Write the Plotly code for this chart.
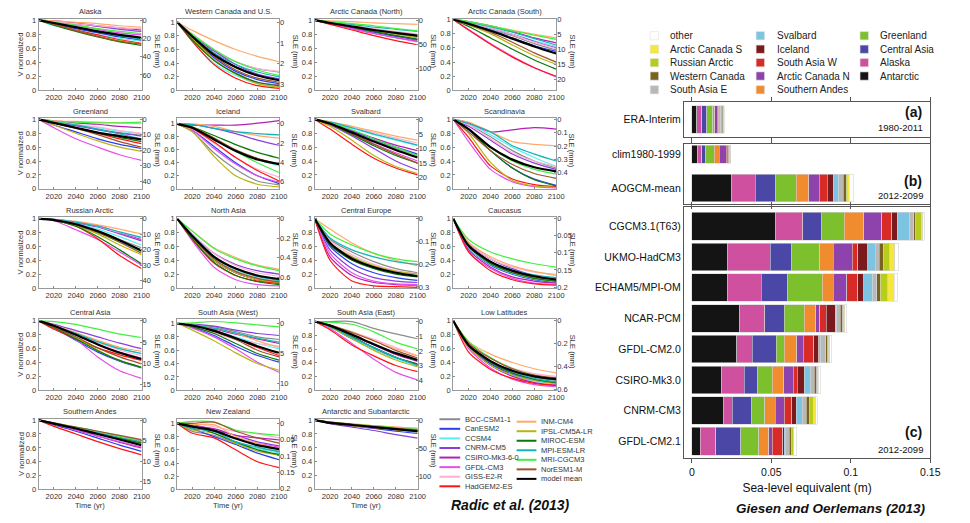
import plotly.graph_objects as go

W, H = 970, 523
FONT = "Liberation Sans, Arial, Helvetica, sans-serif"

# ---------------- left figure data (Radic et al. 2013) ----------------
YEARS = [2006, 2020, 2040, 2060, 2080, 2100]
V_START = 1.0
MODELS = ["BCC-CSM1-1", "CanESM2", "CCSM4", "CNRM-CM5", "CSIRO-Mk3-6-0", "GFDL-CM3",
          "GISS-E2-R", "HadGEM2-ES", "INM-CM4", "IPSL-CM5A-LR", "MIROC-ESM",
          "MPI-ESM-LR", "MRI-CGCM3", "NorESM1-M", "model mean"]
MODEL_COLORS = ["#8c8c8c", "#2a3ff0", "#5ef0f0", "#8a3ee0", "#b41eb4", "#e650ea",
                "#ffb0d0", "#ff1414", "#ffaa6a", "#b9b416", "#0a780a", "#14b4b4",
                "#40f040", "#a0522d", "#000000"]

PANEL_TITLES = ["Alaska", "Western Canada and U.S.", "Arctic Canada (North)", "Arctic Canada (South)",
                "Greenland", "Iceland", "Svalbard", "Scandinavia",
                "Russian Arctic", "North Asia", "Central Europe", "Caucasus",
                "Central Asia", "South Asia (West)", "South Asia (East)", "Low Latitudes",
                "Southern Andes", "New Zealand", "Antarctic and Subantarctic"]

# values at 2020, 2040, 2060, 2080, 2100 (normalized volume), one row per model
ALASKA = [[0.95,0.89,0.83,0.77,0.72],[0.95,0.88,0.82,0.76,0.71],[0.92,0.86,0.79,0.74,0.70],
          [0.98,0.95,0.91,0.87,0.84],[0.99,0.96,0.92,0.89,0.86],[0.98,0.93,0.87,0.82,0.79],
          [0.98,0.95,0.92,0.89,0.88],[0.94,0.86,0.79,0.72,0.67],[0.99,0.97,0.95,0.92,0.90],
          [0.94,0.85,0.77,0.71,0.66],[0.93,0.84,0.76,0.69,0.64],[0.96,0.90,0.84,0.78,0.73],
          [0.97,0.93,0.88,0.84,0.81],[0.94,0.85,0.77,0.70,0.66],[0.96,0.90,0.84,0.79,0.75]]
WEST_CANADA = [[0.82,0.58,0.42,0.32,0.27],[0.78,0.48,0.28,0.16,0.10],[0.72,0.40,0.22,0.10,0.05],
               [0.82,0.58,0.38,0.24,0.17],[0.80,0.55,0.35,0.22,0.15],[0.75,0.45,0.25,0.12,0.08],
               [0.83,0.60,0.42,0.32,0.28],[0.72,0.38,0.18,0.07,0.03],[0.88,0.73,0.60,0.50,0.42],
               [0.76,0.45,0.24,0.10,0.05],[0.74,0.44,0.25,0.12,0.07],[0.80,0.55,0.38,0.27,0.20],
               [0.82,0.60,0.42,0.30,0.22],[0.78,0.50,0.30,0.18,0.12],[0.79,0.52,0.34,0.22,0.15]]
ARCTIC_CAN_N = [[0.96,0.91,0.86,0.81,0.77],[0.95,0.89,0.83,0.77,0.72],[0.96,0.91,0.86,0.81,0.76],
                [0.96,0.90,0.84,0.78,0.72],[0.95,0.88,0.81,0.75,0.70],[0.95,0.88,0.81,0.75,0.69],
                [0.97,0.93,0.88,0.84,0.80],[0.94,0.86,0.78,0.71,0.65],[0.99,0.98,0.96,0.95,0.94],
                [0.96,0.91,0.85,0.80,0.75],[0.96,0.90,0.84,0.78,0.73],[0.97,0.94,0.90,0.87,0.84],
                [0.98,0.95,0.92,0.88,0.85],[0.96,0.91,0.86,0.81,0.77],[0.96,0.91,0.86,0.82,0.78]]
ARCTIC_CAN_S = [[0.95,0.86,0.77,0.66,0.57],[0.94,0.85,0.74,0.63,0.55],[0.95,0.87,0.79,0.70,0.62],
                [0.96,0.88,0.79,0.69,0.60],[0.97,0.91,0.83,0.74,0.67],[0.86,0.66,0.48,0.32,0.19],
                [0.96,0.88,0.79,0.68,0.59],[0.85,0.65,0.47,0.32,0.20],[0.97,0.91,0.85,0.79,0.74],
                [0.92,0.80,0.64,0.49,0.37],[0.90,0.74,0.58,0.43,0.30],[0.96,0.90,0.82,0.73,0.64],
                [0.97,0.91,0.84,0.78,0.72],[0.93,0.82,0.68,0.53,0.40],[0.94,0.84,0.73,0.62,0.52]]
GREENLAND = [[0.96,0.91,0.86,0.81,0.77],[0.92,0.82,0.72,0.64,0.58],[0.97,0.93,0.88,0.83,0.79],
             [0.96,0.91,0.85,0.80,0.76],[0.98,0.95,0.93,0.90,0.88],[0.88,0.72,0.60,0.49,0.41],
             [0.97,0.93,0.89,0.84,0.80],[0.95,0.88,0.80,0.72,0.65],[0.98,0.97,0.96,0.95,0.94],
             [0.92,0.80,0.69,0.60,0.54],[0.95,0.88,0.81,0.74,0.68],[0.97,0.92,0.86,0.79,0.72],
             [0.97,0.96,0.95,0.95,0.96],[0.95,0.87,0.78,0.68,0.60],[0.95,0.88,0.81,0.76,0.71]]
ICELAND = [[0.88,0.55,0.30,0.12,0.06],[0.90,0.65,0.40,0.20,0.08],[0.92,0.75,0.58,0.45,0.35],
           [0.99,0.93,0.85,0.75,0.67],[0.98,0.98,0.98,1.01,1.05],[0.90,0.62,0.38,0.20,0.10],
           [0.92,0.70,0.48,0.30,0.18],[0.93,0.72,0.48,0.28,0.12],[1.00,0.96,0.88,0.82,0.78],
           [0.88,0.50,0.20,0.07,0.03],[0.95,0.82,0.68,0.56,0.47],[0.99,0.93,0.88,0.85,0.83],
           [0.95,0.78,0.58,0.40,0.25],[0.95,0.78,0.60,0.47,0.38],[0.94,0.76,0.58,0.45,0.38]]
SVALBARD = [[0.94,0.82,0.70,0.58,0.48],[0.94,0.83,0.72,0.60,0.50],[0.95,0.87,0.78,0.70,0.62],
            [0.92,0.76,0.58,0.40,0.27],[0.94,0.84,0.73,0.63,0.55],[0.93,0.80,0.65,0.52,0.40],
            [0.96,0.89,0.81,0.73,0.66],[0.86,0.64,0.44,0.30,0.20],[0.97,0.90,0.83,0.76,0.70],
            [0.90,0.70,0.48,0.32,0.22],[0.93,0.78,0.62,0.48,0.37],[0.96,0.88,0.79,0.71,0.63],
            [0.95,0.85,0.72,0.60,0.48],[0.93,0.79,0.64,0.50,0.37],[0.94,0.81,0.68,0.56,0.45]]
SCANDINAVIA = [[0.92,0.75,0.55,0.40,0.30],[0.85,0.55,0.30,0.14,0.05],[0.93,0.78,0.60,0.45,0.32],
               [0.90,0.70,0.50,0.37,0.28],[0.95,0.82,0.85,0.88,0.86],[0.68,0.28,0.10,0.03,0.01],
               [0.92,0.72,0.52,0.40,0.32],[0.74,0.33,0.14,0.06,0.03],[0.96,0.82,0.68,0.64,0.62],
               [0.80,0.38,0.12,0.04,0.02],[0.86,0.55,0.30,0.13,0.04],[0.94,0.82,0.62,0.50,0.40],
               [0.86,0.60,0.40,0.28,0.21],[0.82,0.55,0.35,0.22,0.15],[0.86,0.60,0.42,0.31,0.25]]
RUSSIAN_ARCTIC = [[0.98,0.92,0.82,0.70,0.58],[0.98,0.91,0.81,0.68,0.53],[0.98,0.93,0.85,0.74,0.62],
                  [0.98,0.94,0.88,0.78,0.68],[0.99,0.95,0.90,0.80,0.70],[0.97,0.84,0.70,0.52,0.33],
                  [0.99,0.95,0.89,0.80,0.72],[0.98,0.89,0.71,0.47,0.28],[0.99,0.96,0.91,0.85,0.78],
                  [0.98,0.90,0.78,0.62,0.48],[0.98,0.89,0.74,0.55,0.35],[0.99,0.95,0.89,0.81,0.73],
                  [0.98,0.91,0.80,0.66,0.52],[0.98,0.91,0.80,0.66,0.50],[0.98,0.92,0.82,0.69,0.54]]
NORTH_ASIA = [[0.76,0.46,0.28,0.17,0.11],[0.72,0.40,0.22,0.12,0.07],[0.74,0.44,0.26,0.15,0.10],
              [0.77,0.50,0.34,0.25,0.20],[0.73,0.40,0.22,0.12,0.07],[0.68,0.30,0.12,0.05,0.03],
              [0.78,0.50,0.32,0.22,0.17],[0.70,0.36,0.18,0.10,0.07],[0.82,0.58,0.44,0.33,0.27],
              [0.72,0.40,0.22,0.12,0.08],[0.71,0.37,0.18,0.09,0.05],[0.76,0.46,0.28,0.17,0.11],
              [0.82,0.57,0.42,0.32,0.25],[0.74,0.42,0.24,0.14,0.09],[0.75,0.45,0.28,0.18,0.13]]
CENTRAL_EUROPE = [[0.70,0.52,0.38,0.28,0.22],[0.60,0.35,0.22,0.15,0.11],[0.65,0.45,0.32,0.24,0.18],
                  [0.55,0.28,0.15,0.10,0.08],[0.45,0.18,0.08,0.05,0.04],[0.50,0.22,0.10,0.06,0.05],
                  [0.68,0.48,0.34,0.25,0.20],[0.40,0.10,0.03,0.02,0.01],[0.85,0.65,0.50,0.40,0.32],
                  [0.65,0.45,0.32,0.24,0.20],[0.62,0.40,0.28,0.20,0.16],[0.72,0.55,0.45,0.38,0.34],
                  [0.78,0.62,0.50,0.42,0.38],[0.65,0.44,0.30,0.22,0.17],[0.65,0.42,0.30,0.22,0.17]]
CAUCASUS = [[0.60,0.35,0.22,0.14,0.10],[0.58,0.33,0.20,0.12,0.08],[0.58,0.34,0.21,0.13,0.09],
            [0.64,0.42,0.28,0.18,0.12],[0.55,0.30,0.16,0.10,0.07],[0.52,0.28,0.14,0.07,0.05],
            [0.65,0.42,0.30,0.23,0.20],[0.52,0.25,0.12,0.06,0.04],[0.66,0.45,0.32,0.24,0.18],
            [0.60,0.36,0.22,0.14,0.10],[0.60,0.35,0.22,0.14,0.10],[0.62,0.38,0.26,0.19,0.15],
            [0.70,0.52,0.42,0.35,0.30],[0.62,0.38,0.24,0.16,0.12],[0.61,0.38,0.25,0.17,0.12]]
CENTRAL_ASIA = [[0.93,0.80,0.66,0.54,0.44],[0.90,0.72,0.55,0.42,0.32],[0.92,0.80,0.69,0.60,0.53],
                [0.95,0.86,0.77,0.68,0.60],[0.92,0.80,0.66,0.55,0.46],[0.90,0.73,0.48,0.28,0.17],
                [0.93,0.81,0.69,0.58,0.50],[0.88,0.74,0.61,0.51,0.43],[0.94,0.83,0.72,0.62,0.56],
                [0.91,0.76,0.58,0.43,0.33],[0.90,0.74,0.57,0.43,0.33],[0.93,0.82,0.70,0.60,0.53],
                [0.99,0.95,0.88,0.81,0.76],[0.91,0.77,0.61,0.48,0.38],[0.93,0.80,0.66,0.54,0.45]]
SOUTH_ASIA_W = [[0.98,0.95,0.88,0.80,0.76],[0.94,0.82,0.66,0.52,0.42],[0.97,0.90,0.80,0.70,0.62],
                [0.99,0.96,0.90,0.85,0.82],[0.97,0.92,0.84,0.77,0.70],[0.93,0.80,0.62,0.42,0.27],
                [0.95,0.86,0.76,0.70,0.66],[0.97,0.90,0.78,0.64,0.52],[0.98,0.93,0.85,0.74,0.64],
                [0.90,0.74,0.56,0.40,0.30],[0.95,0.85,0.70,0.55,0.45],[0.98,0.93,0.86,0.78,0.72],
                [1.01,1.03,1.01,0.98,0.95],[0.97,0.88,0.76,0.60,0.50],[0.97,0.89,0.78,0.66,0.56]]
SOUTH_ASIA_E = [[1.00,1.00,0.90,0.82,0.75],[0.92,0.75,0.60,0.47,0.37],[0.92,0.76,0.60,0.46,0.35],
                [0.93,0.78,0.62,0.48,0.38],[0.94,0.80,0.66,0.52,0.42],[0.90,0.68,0.45,0.26,0.15],
                [0.95,0.85,0.74,0.62,0.50],[0.88,0.66,0.50,0.36,0.27],[0.95,0.85,0.72,0.60,0.50],
                [0.92,0.75,0.58,0.44,0.34],[0.93,0.78,0.62,0.48,0.38],[0.93,0.77,0.62,0.48,0.36],
                [0.99,0.96,0.85,0.70,0.60],[0.95,0.84,0.72,0.58,0.47],[0.94,0.81,0.67,0.54,0.44]]
LOW_LATITUDES = [[0.66,0.42,0.28,0.19,0.14],[0.63,0.38,0.23,0.14,0.09],[0.62,0.36,0.21,0.13,0.09],
                 [0.64,0.40,0.25,0.16,0.11],[0.62,0.36,0.20,0.11,0.07],[0.60,0.32,0.16,0.08,0.05],
                 [0.68,0.46,0.32,0.24,0.20],[0.55,0.30,0.17,0.10,0.07],[0.70,0.52,0.40,0.31,0.25],
                 [0.62,0.36,0.22,0.14,0.10],[0.64,0.40,0.25,0.16,0.11],[0.66,0.42,0.27,0.17,0.12],
                 [0.70,0.47,0.31,0.21,0.16],[0.68,0.46,0.31,0.22,0.18],[0.65,0.42,0.28,0.20,0.16]]
SOUTHERN_ANDES = [[0.95,0.88,0.81,0.74,0.67],[0.93,0.84,0.74,0.64,0.55],[0.94,0.87,0.79,0.72,0.65],
                  [0.95,0.88,0.81,0.74,0.68],[0.94,0.86,0.77,0.68,0.60],[0.94,0.86,0.77,0.69,0.61],
                  [0.95,0.88,0.81,0.73,0.66],[0.91,0.80,0.69,0.59,0.50],[0.95,0.89,0.82,0.76,0.70],
                  [0.95,0.88,0.81,0.74,0.67],[0.95,0.88,0.81,0.74,0.67],[0.95,0.89,0.82,0.75,0.69],
                  [0.96,0.90,0.84,0.77,0.71],[0.96,0.90,0.84,0.78,0.72],[0.95,0.88,0.80,0.72,0.64]]
NEW_ZEALAND = [[0.88,0.82,0.70,0.62,0.58],[0.92,0.80,0.68,0.55,0.45],[0.95,0.85,0.72,0.62,0.55],
               [0.98,0.90,0.82,0.72,0.66],[0.96,0.92,0.82,0.78,0.75],[0.97,0.88,0.78,0.70,0.64],
               [1.00,0.95,0.88,0.84,0.78],[0.85,0.78,0.60,0.42,0.33],[0.98,0.98,0.80,0.70,0.62],
               [0.90,0.85,0.70,0.58,0.52],[0.96,0.85,0.72,0.60,0.53],[0.92,0.88,0.72,0.64,0.57],
               [1.03,1.02,0.90,0.85,0.82],[1.00,1.02,0.88,0.78,0.70],[0.95,0.89,0.77,0.67,0.61]]
ANTARCTIC = [[0.96,0.92,0.89,0.86,0.84],[0.96,0.92,0.88,0.84,0.81],[0.96,0.93,0.90,0.87,0.85],
             [0.95,0.90,0.85,0.79,0.74],[0.96,0.93,0.90,0.87,0.85],[0.96,0.92,0.89,0.86,0.84],
             [0.97,0.94,0.92,0.90,0.88],[0.96,0.93,0.90,0.87,0.84],[0.97,0.95,0.92,0.90,0.88],
             [0.96,0.92,0.89,0.86,0.83],[0.96,0.93,0.90,0.87,0.85],[0.97,0.94,0.91,0.88,0.86],
             [0.97,0.94,0.92,0.89,0.87],[0.97,0.94,0.91,0.88,0.86],[0.96,0.93,0.90,0.87,0.84]]

PANEL_DATA = [ALASKA, WEST_CANADA, ARCTIC_CAN_N, ARCTIC_CAN_S, GREENLAND, ICELAND, SVALBARD,
              SCANDINAVIA, RUSSIAN_ARCTIC, NORTH_ASIA, CENTRAL_EUROPE, CAUCASUS, CENTRAL_ASIA,
              SOUTH_ASIA_W, SOUTH_ASIA_E, LOW_LATITUDES, SOUTHERN_ANDES, NEW_ZEALAND, ANTARCTIC]
V_MAX = [1.02, 1.05, 1.02, 1.01, 1.02, 1.09, 1.02, 1.02, 1.02, 1.02,
         1.02, 1.02, 1.02, 1.06, 1.03, 1.02, 1.02, 1.07, 1.02]
SLE_AT_ZERO = [77, 3.29, 145, 23.6, 44.8, 6.72, 23.8, 0.52, 44.8, 0.71,
               0.305, 0.203, 16.3, 11.2, 4.67, 0.61, 16.9, 0.203, 123]
SLE_TICKS = [[0, 20, 40, 60], [0, 1, 2, 3], [0, 50, 100], [0, 5, 10, 15, 20],
             [0, 10, 20, 30, 40], [0, 2, 4, 6], [0, 5, 10, 15, 20], [0, 0.1, 0.2, 0.3, 0.4],
             [0, 10, 20, 30, 40], [0, 0.2, 0.4, 0.6], [0, 0.1, 0.2, 0.3], [0, 0.05, 0.1, 0.15, 0.2],
             [0, 5, 10, 15], [0, 5, 10], [0, 1, 2, 3, 4], [0, 0.2, 0.4, 0.6],
             [0, 5, 10, 15], [0, 0.05, 0.1, 0.15, 0.2], [0, 50, 100]]
V_TICKS = [0, 0.2, 0.4, 0.6, 0.8, 1]
X_TICKS = [2020, 2040, 2060, 2080, 2100]

# ---------------- right figure data (Giesen and Oerlemans 2013) ----------------
REGIONS = ["Antarctic", "Alaska", "Central Asia", "Greenland", "Southern Andes", "Arctic Canada N",
           "South Asia W", "Iceland", "Svalbard", "South Asia E", "Western Canada", "Russian Arctic",
           "Arctic Canada S", "other"]
REGION_COLORS = ["#141414", "#d050a0", "#4a47a6", "#7cc12d", "#f08c2e", "#8d42ac", "#d82a27",
                 "#7b1a1d", "#7dc4e2", "#b8b8b8", "#7a6320", "#b7cc1c", "#f6e640", "#ffffff"]
ERA_INTERIM = [0.0031, 0.0031, 0.0031, 0.0040, 0.0012, 0.0016, 0.0008, 0.0008, 0.0006, 0.0008, 0.0006, 0.0003, 0.0002, 0.0003]
CLIM_1980_1999 = [0.0037, 0.0025, 0.0027, 0.0052, 0.0033, 0.0044, 0.0006, 0.0008, 0.0003, 0.0004, 0.0003, 0.0001, 0.0001, 0.0002]
AOGCM_MEAN = [0.0249, 0.0151, 0.0129, 0.0129, 0.0079, 0.0064, 0.0052, 0.0037, 0.0033, 0.0029, 0.0019, 0.0010, 0.0010, 0.0025]
CGCM31_T63 = [0.0525, 0.0172, 0.0118, 0.0145, 0.0120, 0.0114, 0.0062, 0.0035, 0.0079, 0.0025, 0.0015, 0.0033, 0.0008, 0.0012]
UKMO_HADCM3 = [0.0224, 0.0270, 0.0131, 0.0180, 0.0085, 0.0120, 0.0033, 0.0064, 0.0046, 0.0027, 0.0025, 0.0041, 0.0029, 0.0027]
ECHAM5_MPIOM = [0.0224, 0.0214, 0.0164, 0.0218, 0.0071, 0.0083, 0.0071, 0.0037, 0.0056, 0.0025, 0.0023, 0.0046, 0.0041, 0.0021]
NCAR_PCM = [0.0301, 0.0158, 0.0122, 0.0127, 0.0071, 0.0027, 0.0041, 0.0056, 0.0008, 0.0021, 0.0017, 0.0008, 0.0004, 0.0012]
GFDL_CM20 = [0.0282, 0.0098, 0.0151, 0.0050, 0.0079, 0.0041, 0.0066, 0.0031, 0.0012, 0.0031, 0.0015, 0.0006, 0.0004, 0.0012]
CSIRO_MK30 = [0.0189, 0.0141, 0.0085, 0.0091, 0.0071, 0.0060, 0.0027, 0.0044, 0.0041, 0.0021, 0.0017, 0.0004, 0.0004, 0.0012]
CNRM_CM3 = [0.0197, 0.0058, 0.0118, 0.0085, 0.0066, 0.0058, 0.0046, 0.0029, 0.0037, 0.0027, 0.0021, 0.0021, 0.0015, 0.0012]
GFDL_CM21 = [0.0054, 0.0098, 0.0156, 0.0114, 0.0062, 0.0021, 0.0066, 0.0010, 0.0006, 0.0027, 0.0015, 0.0008, 0.0004, 0.0019]

CATS_A = ["ERA-Interim"]
CATS_B = ["clim1980-1999", "AOGCM-mean"]
CATS_C = ["CGCM3.1(T63)", "UKMO-HadCM3", "ECHAM5/MPI-OM", "NCAR-PCM", "GFDL-CM2.0",
          "CSIRO-Mk3.0", "CNRM-CM3", "GFDL-CM2.1"]
SETS_A = [ERA_INTERIM]
SETS_B = [CLIM_1980_1999, AOGCM_MEAN]
SETS_C = [CGCM31_T63, UKMO_HADCM3, ECHAM5_MPIOM, NCAR_PCM, GFDL_CM20, CSIRO_MK30, CNRM_CM3, GFDL_CM21]
SLE_M_TICKS = [0, 0.05, 0.1, 0.15]

# ---------------- layout helpers (pixel positions) ----------------
def px_x(x):
    return x / W

def px_y(y):
    return 1 - y / H

COL_X = [(39, 143), (179, 282), (318, 422), (458, 562)]
ROW_Y = [(15, 88), (116, 188), (217, 289), (321, 393), (422, 494)]

fig = go.Figure()
layout = dict(width=W, height=H, autosize=False, margin=dict(l=0, r=0, t=0, b=0),
              paper_bgcolor="white", plot_bgcolor="white", showlegend=False,
              barmode="stack", hovermode=False, font=dict(family=FONT, color="#333"))
annotations = []
shapes = []

TXT = "#333333"
for k, (title, rows) in enumerate(zip(PANEL_TITLES, PANEL_DATA)):
    r, c = divmod(k, 4)
    x0, x1 = COL_X[c]
    y0, y1 = ROW_Y[r]
    n = k + 1
    xa, ya, ya2 = f"x{n}", f"y{n}", f"y{n + 19}"
    for m, vals in enumerate(rows):
        is_mean = m == len(rows) - 1
        fig.add_trace(go.Scatter(
            x=YEARS, y=[V_START] + vals, xaxis=xa, yaxis=ya, mode="lines",
            line=dict(color=MODEL_COLORS[m], width=2.2 if is_mean else 1.2,
                      shape="spline", smoothing=0.7),
            hoverinfo="skip"))
    # anchor trace for the SLE axis (invisible)
    fig.add_trace(go.Scatter(x=[YEARS[0]], y=[SLE_AT_ZERO[k]], xaxis=xa, yaxis=ya2,
                             mode="lines", line=dict(width=0), hoverinfo="skip"))
    layout[f"xaxis{n}"] = dict(
        domain=[px_x(x0), px_x(x1)], anchor=ya, range=[YEARS[0], YEARS[-1]],
        tickmode="array", tickvals=X_TICKS, ticktext=[str(v) for v in X_TICKS],
        ticks="inside", ticklen=2, tickcolor="#888", showline=True, mirror=True,
        linecolor="#9a9a9a", linewidth=1, showgrid=False, zeroline=False,
        tickfont=dict(size=7.5, color=TXT, family=FONT))
    layout[f"yaxis{n}"] = dict(
        domain=[px_y(y1), px_y(y0)], anchor=xa, range=[0, V_MAX[k]],
        tickmode="array", tickvals=V_TICKS, ticktext=[f"{v:g}" for v in V_TICKS],
        ticks="inside", ticklen=2, tickcolor="#888", showline=True, mirror=True,
        linecolor="#9a9a9a", linewidth=1, showgrid=False, zeroline=False,
        tickfont=dict(size=7.5, color=TXT, family=FONT))
    layout[f"yaxis{n + 19}"] = dict(
        overlaying=ya, anchor=xa, side="right",
        range=[SLE_AT_ZERO[k], SLE_AT_ZERO[k] * (1 - V_MAX[k])],
        tickmode="array", tickvals=SLE_TICKS[k], ticktext=[f"{v:g}" for v in SLE_TICKS[k]],
        ticks="inside", ticklen=2, tickcolor="#888", showline=False, showgrid=False,
        zeroline=False, tickfont=dict(size=7.5, color=TXT, family=FONT))
    annotations.append(dict(text=title, x=px_x((x0 + x1) / 2), y=px_y(y0 - 7), xref="paper",
                            yref="paper", showarrow=False, xanchor="center", yanchor="middle",
                            font=dict(size=7.5, color=TXT, family=FONT)))
    annotations.append(dict(text="SLE (mm)", x=px_x(x1 + 16), y=px_y((y0 + y1) / 2 - 3),
                            xref="paper", yref="paper", showarrow=False, textangle=90,
                            xanchor="center", yanchor="middle",
                            font=dict(size=7.5, color=TXT, family=FONT)))
    if c == 0:
        annotations.append(dict(text="V normalized", x=px_x(21), y=px_y((y0 + y1) / 2),
                                xref="paper", yref="paper", showarrow=False, textangle=-90,
                                xanchor="center", yanchor="middle",
                                font=dict(size=7.5, color=TXT, family=FONT)))
    if r == 4:
        annotations.append(dict(text="Time (yr)", x=px_x((x0 + x1) / 2), y=px_y(y1 + 16),
                                xref="paper", yref="paper", showarrow=False,
                                xanchor="center", yanchor="middle",
                                font=dict(size=7.5, color=TXT, family=FONT)))

# left legend (two columns of line samples)
for i, (name, col) in enumerate(zip(MODELS, MODEL_COLORS)):
    if i < 8:
        lx0, lx1, tx, ly = 444, 465, 468, 422.5 + 9.75 * i
    else:
        lx0, lx1, tx, ly = 522, 542, 545, 425 + 9.7 * (i - 8)
    shapes.append(dict(type="line", xref="paper", yref="paper", x0=px_x(lx0), x1=px_x(lx1),
                       y0=px_y(ly), y1=px_y(ly), line=dict(color=col, width=2)))
    annotations.append(dict(text=name, x=px_x(tx), y=px_y(ly), xref="paper", yref="paper",
                            showarrow=False, xanchor="left", yanchor="middle",
                            font=dict(size=7.5, color=TXT, family=FONT)))

annotations.append(dict(text="<b><i>Radic et al. (2013)</i></b>", x=px_x(516), y=px_y(510),
                        xref="paper", yref="paper", showarrow=False, xanchor="center",
                        yanchor="middle", font=dict(size=14, color="#111", family=FONT)))

# ---------------- right figure: stacked bars ----------------
BX0, BX1 = 691, 940
bar_panels = [
    ("x20", "y39", CATS_A, SETS_A, [0.8], (100, 135), [0.5, -0.5], False),
    ("x21", "y40", CATS_B, SETS_B, [0.53, 0.81], (142, 203), [1.45, -0.31], False),
    ("x22", "y41", CATS_C, SETS_C, [0.9] * 8, (207, 462), [7.545, -0.61], True),
]
for xa, ya, cats, sets, widths, (t, b), yr, show_lbl in bar_panels:
    for j, (reg, col) in enumerate(zip(REGIONS, REGION_COLORS)):
        fig.add_trace(go.Bar(
            y=cats, x=[s[j] for s in sets], orientation="h", width=widths,
            xaxis=xa, yaxis=ya, name=reg,
            marker=dict(color=col, line=dict(color="#d4d4d4", width=0.6)),
            hoverinfo="skip"))
    layout["xaxis" + xa[1:]] = dict(
        domain=[px_x(BX0), px_x(BX1)], anchor=ya, range=[-0.005, 0.15],
        tickmode="array", tickvals=SLE_M_TICKS, ticktext=[f"{v:g}" for v in SLE_M_TICKS],
        showticklabels=show_lbl, ticks="outside", ticklen=4, tickcolor="#555",
        showline=True, linecolor="#555", linewidth=1, mirror="ticks",
        showgrid=False, zeroline=False,
        tickfont=dict(size=10.5, color="#111", family=FONT),
        title=dict(text="Sea-level equivalent (m)" if show_lbl else "",
                   font=dict(size=12, color="#111", family=FONT), standoff=6))
    layout["yaxis" + ya[1:]] = dict(
        domain=[px_y(b), px_y(t)], anchor=xa, type="category", range=yr,
        showline=True, linecolor="#555", linewidth=1, mirror=True, ticks="",
        showgrid=False, zeroline=False,
        tickfont=dict(size=10.5, color="#111", family=FONT))

# right legend
for i, (reg, col) in enumerate(zip(REGIONS[::-1], REGION_COLORS[::-1])):
    cidx, ridx = divmod(i, 5)
    sx = [657, 764, 869][cidx]
    tx = [675, 783, 887][cidx]
    sy = [32.3, 46, 59.7, 73.3, 87.3][ridx]
    shapes.append(dict(type="rect", xref="paper", yref="paper", x0=px_x(sx), x1=px_x(sx + 8.5),
                       y0=px_y(sy + 4.2), y1=px_y(sy - 4.2), fillcolor=col,
                       line=dict(color="#e0e0e0", width=0.6)))
    annotations.append(dict(text=reg, x=px_x(tx), y=px_y(sy), xref="paper", yref="paper",
                            showarrow=False, xanchor="left", yanchor="middle",
                            font=dict(size=10, color="#222", family=FONT)))

for lbl, period, ly, py in [("(a)", "1980-2011", 110, 126), ("(b)", "2012-2099", 180, 195),
                            ("(c)", "2012-2099", 436, 453)]:
    annotations.append(dict(text=f"<b>{lbl}</b>", x=px_x(934), y=px_y(ly), xref="paper",
                            yref="paper", showarrow=False, xanchor="right", yanchor="middle",
                            font=dict(size=14, color="#111", family=FONT)))
    annotations.append(dict(text=period, x=px_x(935), y=px_y(py), xref="paper",
                            yref="paper", showarrow=False, xanchor="right", yanchor="middle",
                            font=dict(size=9.5, color="#111", family=FONT)))

annotations.append(dict(text="<b><i>Giesen and Oerlemans (2013)</i></b>", x=px_x(840),
                        y=px_y(513), xref="paper", yref="paper", showarrow=False,
                        xanchor="center", yanchor="middle",
                        font=dict(size=13.5, color="#111", family=FONT)))

layout["annotations"] = annotations
layout["shapes"] = shapes
fig.update_layout(**layout)
fig.write_html(
    "out.html",
    config={"displayModeBar": False, "staticPlot": True},
    post_script=("document.body.style.margin='0';document.body.style.overflow='hidden';"
                 "document.documentElement.style.overflow='hidden';"))
